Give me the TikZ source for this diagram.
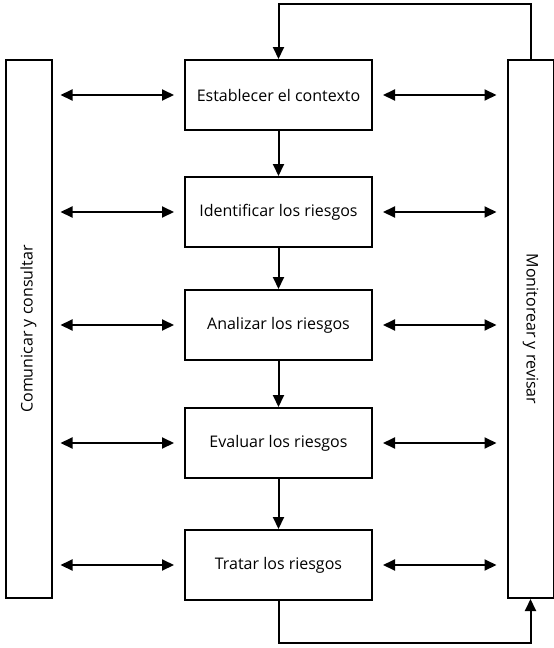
\documentclass[tikz,border=0pt]{standalone}
\usepackage{fontspec}
\setmainfont{Open Sans}
\usepackage{tikz}
\usetikzlibrary{arrows.meta}

\begin{document}
\begin{tikzpicture}[x=1pt, y=-1pt]
% Node styles ---
\tikzstyle{stage} = [rectangle, line width = 2pt, minimum width = 187pt, minimum height = 70pt, draw = black!100, fill = white!100, font = \fontsize{16}{19}\selectfont]
\tikzstyle{bar} = [rectangle, line width = 2pt, minimum width = 46pt, minimum height = 538pt, draw = black!100, fill = white!100, font = \fontsize{16}{19}\selectfont]
\tikzstyle{con} = [-{Triangle[length = 12pt, width = 11pt]}, line width = 2pt, draw = black!100]
\tikzstyle{cor} = [{Triangle[length = 12pt, width = 11pt]}-{Triangle[length = 12pt, width = 11pt]}, line width = 2pt, draw = black!100, shorten < = 8pt, shorten > = 10pt]
\useasboundingbox (0,0) rectangle (554,648);
% Begin Figure ---
% Nodes
\node at (278.5,95) [stage] (est) {Establecer el contexto};
\node at (278.5,212) [stage] (ide) {Identificar los riesgos};
\node at (278.5,325) [stage] (ana) {Analizar los riesgos};
\node at (278.5,443) [stage] (eva) {Evaluar los riesgos};
\node at (278.5,565) [stage] (tra) {Tratar los riesgos};
\node at (28.5,329) [bar] (com) {\rotatebox{90}{Comunicar y consultar}};
\node at (530.5,329) [bar] (mon) {\rotatebox{-90}{Monitorear y revisar}};
\coordinate (top) at (0,4);
\coordinate (bot) at (0,643);
% Paths
\path (est) edge [con] (ide);
\path (ide) edge [con] (ana);
\path (ana) edge [con] (eva);
\path (eva) edge [con] (tra);
\draw [con] (mon.north) -- (mon.north |- top) -| (est.north);
\draw [con] (tra.south) -- (tra.south |- bot) -| (mon.south);
% communication
\path (com.east |- est) edge [cor] (est.west);
\path (com.east |- ide) edge [cor] (ide.west);
\path (com.east |- ana) edge [cor] (ana.west);
\path (com.east |- eva) edge [cor] (eva.west);
\path (com.east |- tra) edge [cor] (tra.west);
% monitoring
\path (est.east) edge [cor, shorten < = 10pt, shorten > = 10pt] (mon.west |- est);
\path (ide.east) edge [cor, shorten < = 10pt, shorten > = 10pt] (mon.west |- ide);
\path (ana.east) edge [cor, shorten < = 10pt, shorten > = 10pt] (mon.west |- ana);
\path (eva.east) edge [cor, shorten < = 10pt, shorten > = 10pt] (mon.west |- eva);
\path (tra.east) edge [cor, shorten < = 10pt, shorten > = 10pt] (mon.west |- tra);
\end{tikzpicture}
\end{document}
